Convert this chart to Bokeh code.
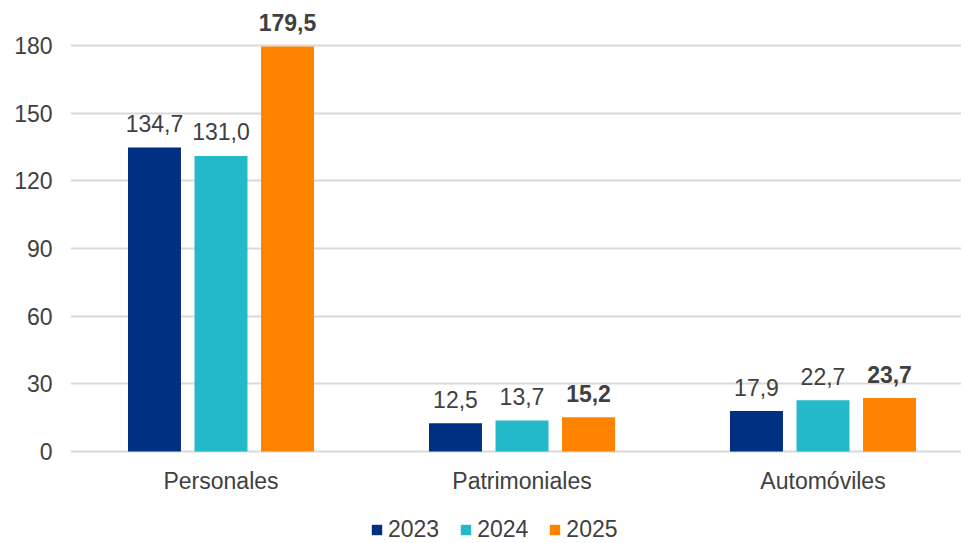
from bokeh.plotting import figure
from bokeh.models import (ColumnDataSource, Range1d, FixedTicker, Legend, LegendItem)
from bokeh.core.properties import value
from bokeh.embed import file_html
from bokeh.resources import INLINE

categories = ["Personales", "Patrimoniales", "Automóviles"]
years = ["2023", "2024", "2025"]
v2023 = [134.7, 12.5, 17.9]
v2024 = [131.0, 13.7, 22.7]
v2025 = [179.5, 15.2, 23.7]
y_ticks = [0, 30, 60, 90, 120, 150, 180]
colors = ["#003082", "#23B9CA", "#FF8300"]

FONT = "Liberation Sans"
TXT = "#404040"
FS = "23px"

FW = 891
FH = 532
Y_TOP = 195
Y_BOTTOM = -40.77
p = figure(frame_width=FW, frame_height=FH, output_backend="svg", toolbar_location=None,
           x_range=Range1d(-0.5, -0.5 + FW / 301), y_range=Range1d(Y_BOTTOM, Y_TOP),
           min_border_left=70, min_border_right=0, min_border_top=11, min_border_bottom=0)
p.outline_line_color = None
p.background_fill_color = "white"
p.border_fill_color = "white"

offsets = [-0.221, 0.0, 0.221]
bar_w = 0.176
series = [v2023, v2024, v2025]
items = []
for k, (vals, col, yr) in enumerate(zip(series, colors, years)):
    xs = [i + offsets[k] for i in range(len(categories))]
    src = ColumnDataSource(dict(x=xs, top=vals,
                                label=[f"{v:.1f}".replace(".", ",") for v in vals]))
    r = p.vbar(x="x", top="top", width=bar_w, bottom=0, source=src,
               fill_color=col, line_color=None)
    items.append(LegendItem(label=yr, renderers=[r]))
    p.text(x="x", y="top", text="label", source=src, text_align="center",
           text_baseline="alphabetic", y_offset=-24,
           text_font=value(FONT), text_font_size=FS, text_color=TXT,
           text_font_style="bold" if k == 2 else "normal")

# category labels under the baseline
cat_src = ColumnDataSource(dict(x=list(range(len(categories))), y=[0] * len(categories),
                                label=categories))
p.text(x="x", y="y", text="label", source=cat_src, text_align="center",
       text_baseline="middle", y_offset=29,
       text_font=value(FONT), text_font_size=FS, text_color=TXT)

# axes
p.yaxis.ticker = FixedTicker(ticks=y_ticks)
p.yaxis.axis_line_color = None
p.yaxis.major_tick_line_color = None
p.yaxis.minor_tick_line_color = None
p.yaxis.major_label_standoff = 12
p.yaxis.major_label_text_font = FONT
p.yaxis.major_label_text_font_size = FS
p.yaxis.major_label_text_color = TXT

p.xaxis.visible = False
p.xgrid.grid_line_color = None
p.ygrid.ticker = FixedTicker(ticks=y_ticks)
p.ygrid.grid_line_color = "#d9d9d9"
p.ygrid.grid_line_width = 2

legend = Legend(items=items, orientation="horizontal", location=(300, 0),
                glyph_width=13, glyph_height=13, label_standoff=5, spacing=20,
                label_text_font=FONT, label_text_font_size=FS, label_text_color=TXT,
                border_line_color=None, background_fill_color=None,
                padding=0, margin=0)
p.add_layout(legend, "center")

open("out.html", "w").write(file_html(p, INLINE))
